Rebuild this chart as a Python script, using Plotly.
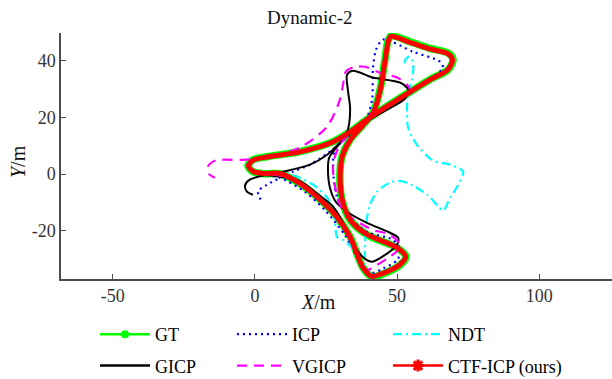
import plotly.graph_objects as go

# ---------------- data (metres) ----------------
gt_x = [47.9, 54.6, 61.6, 68.0, 69.7, 68.0, 61.6, 54.6, 46.8, 39.4, 33.5, 27.5, 15.8, 4.2, -0.7, -2.5,
        -0.7, 3.5, 8.8, 15.8, 22.9, 28.2, 33.5, 38.0, 41.2, 45.1, 51.1, 53.2, 50.0, 39.4, 33.5, 30.6,
        29.9, 30.6, 33.5, 37.7, 41.5, 44.0, 45.6, 46.8, 47.9]
gt_y = [48.7, 46.6, 44.3, 42.6, 40.3, 36.8, 33.3, 29.0, 24.1, 19.2, 14.9, 11.4, 7.9, 6.1, 5.0, 2.9,
        0.8, 0.1, 0.1, -3.4, -9.0, -14.3, -22.1, -33.0, -36.3, -35.2, -32.0, -29.2, -26.0, -21.4, -16.2, -9.1,
        -0.2, 6.1, 12.1, 17.0, 21.6, 29.7, 39.5, 46.9, 48.7]

icp_x = [0.0, 8.8, 17.6, 24.6, 31.7, 37.0, 40.5, 45.1, 50.0, 51.1, 48.6, 39.4, 32.7, 28.9, 27.5, 28.2,
         33.5, 38.7, 41.2, 41.5, 42.6, 45.1, 55.6, 65.1, 66.2, 65.1, 55.6, 44.0, 35.2, 28.2, 19.4, 13.4,
         4.2, 1.1, 2.5]
icp_y = [0.1, -1.3, -6.3, -12.7, -21.6, -31.1, -35.0, -33.3, -30.4, -26.9, -23.2, -20.4, -14.4, -8.1, 1.5, 8.6,
         13.8, 18.4, 26.2, 36.8, 43.8, 47.4, 43.1, 39.6, 37.5, 36.1, 29.0, 22.0, 16.3, 9.3, 3.3, 0.8,
         -3.8, -6.2, -9.8]

ndt_x = [0.0, 5.3, 9.9, 15.8, 21.1, 24.6, 27.5, 28.2, 28.9, 31.0, 34.2, 37.0, 38.4, 38.7, 39.1, 40.5,
         43.0, 47.5, 51.1, 55.6, 60.6, 64.1, 66.2, 68.7, 71.5, 73.2, 68.7, 62.7, 57.0, 53.9, 53.5, 53.9,
         55.3, 55.6, 54.2, 52.8, 53.2]
ndt_y = [0.1, 0.5, 0.5, -1.3, -4.2, -7.3, -11.9, -17.2, -22.2, -23.2, -26.0, -31.0, -33.0, -26.7, -17.7, -10.8,
         -6.2, -3.0, -2.4, -4.1, -7.3, -10.9, -12.9, -8.3, -3.8, 0.8, 3.3, 4.7, 10.3, 16.3, 22.0, 29.0,
         33.3, 39.6, 41.4, 40.0, 37.8]

gicp_x = [0.0, 8.8, 15.8, 22.9, 27.5, 32.4, 35.9, 38.7, 41.2, 45.8, 50.0, 50.4, 47.5, 39.4, 33.5, 28.5,
          26.4, 25.7, 26.1, 29.2, 32.4, 33.5, 32.7, 32.4, 34.5, 41.5, 51.1, 53.9, 52.8, 46.5, 40.5, 35.2,
          29.9, 25.4, 19.4, 9.9, 2.5, -1.8, -3.5, -2.8, -0.7]
gicp_y = [0.1, -0.95, -2.4, -7.7, -11.5, -19.6, -26.7, -29.9, -30.9, -28.5, -24.9, -22.5, -20.7, -17.2, -14.0, -9.8,
          -4.8, 1.5, 5.7, 10.0, 14.6, 22.7, 29.7, 35.0, 36.4, 34.0, 32.2, 29.7, 26.6, 22.7, 19.2, 15.6,
          11.0, 6.8, 3.3, 0.8, -0.6, -2.0, -4.1, -6.2, -7.3]

vgicp_x = [0.0, 8.8, 15.8, 22.9, 28.2, 32.7, 36.3, 39.4, 43.0, 46.8, 50.4, 51.1, 47.5, 41.5, 34.2, 29.9,
           28.2, 27.5, 29.9, 36.3, 45.8, 53.5, 54.6, 53.2, 50.0, 44.0, 38.7, 35.2, 32.0, 31.0, 29.9, 25.4,
           15.8, 4.2, -4.2, -14.1, -16.5, -16.2, -14.1]
vgicp_y = [0.1, -0.6, -3.1, -8.4, -14.4, -21.5, -29.6, -33.8, -32.0, -29.6, -26.8, -25.0, -21.4, -19.7, -15.5, -10.8,
           -4.5, 3.3, 10.3, 17.0, 23.4, 28.0, 29.7, 31.8, 34.0, 35.7, 37.8, 37.8, 36.1, 31.5, 26.2, 16.7,
           9.3, 5.8, 5.0, 4.7, 2.6, 0.1, -1.3]

ctf_x = [47.8, 54.5, 61.5, 67.9, 69.5, 67.8, 61.5, 54.5, 46.7, 39.3, 33.4, 27.4, 15.8, 4.2, -0.6, -2.3,
         -0.6, 3.5, 8.8, 15.8, 22.8, 28.1, 33.4, 37.9, 41.1, 45.0, 51.0, 53.0, 49.9, 39.4, 33.5, 30.7,
         30.0, 30.7, 33.6, 37.8, 41.6, 44.1, 45.7, 46.9, 47.8]
ctf_y = [48.5, 46.4, 44.1, 42.4, 40.2, 36.7, 33.2, 28.9, 24.0, 19.1, 14.8, 11.3, 7.8, 6.0, 4.9, 2.9,
         0.9, 0.2, 0.2, -3.3, -8.9, -14.2, -22.0, -32.8, -36.1, -35.0, -31.9, -29.1, -25.9, -21.3, -16.1, -9.0,
         -0.2, 6.1, 12.1, 17.0, 21.6, 29.7, 39.4, 46.7, 48.5]

x_ticks = [-50, 0, 50, 100]
y_ticks = [-20, 0, 20, 40]

FONT = "Liberation Serif"
W, H = 612, 379

series = [
    ("GT", gt_x, gt_y, "#00ff00", 7.5, "solid"),
    ("ICP", icp_x, icp_y, "#0000ff", 2.2, "2px,4px"),
    ("NDT", ndt_x, ndt_y, "#00ffff", 2.2, "9px,4px,2px,4px"),
    ("GICP", gicp_x, gicp_y, "#000000", 2.0, "solid"),
    ("VGICP", vgicp_x, vgicp_y, "#ff00ff", 2.2, "10px,7px"),
    ("CTF-ICP (ours)", ctf_x, ctf_y, "#ff0000", 5.0, "solid"),
]

fig = go.Figure()
for name, xs, ys, col, w, dash in series:
    fig.add_trace(go.Scatter(x=xs, y=ys, mode="lines", name=name, showlegend=False,
                             line=dict(color=col, width=w, dash=dash, shape="spline", smoothing=0.8),
                             hoverinfo="skip"))

# legend-only entries (3 columns x 2 rows)
legend_items = [
    ("GT", "#00ff00", "solid", 2.5, dict(symbol="circle", size=8, color="#00ff00"), "legend"),
    ("GICP", "#000000", "solid", 2.5, None, "legend"),
    ("ICP", "#0000ff", "2px,4px", 2.2, None, "legend2"),
    ("VGICP", "#ff00ff", "10px,7px", 2.2, None, "legend2"),
    ("NDT", "#00ffff", "9px,4px,2px,4px", 2.2, None, "legend3"),
    ("CTF-ICP (ours)", "#ff0000", "solid", 2.5,
     dict(symbol="asterisk-open", size=10, color="#ff0000", line=dict(color="#ff0000", width=3)), "legend3"),
]
for name, col, dash, w, mk, lg in legend_items:
    fig.add_trace(go.Scatter(x=[None], y=[None], name=name,
                             mode="lines+markers" if mk else "lines",
                             line=dict(color=col, width=w, dash=dash),
                             marker=mk if mk else None,
                             legend=lg, legendgroup=name, showlegend=True))

l, r, t, b = 61, 0, 33, 100
leg_common = dict(orientation="v", xref="container", yref="container", xanchor="left", yanchor="top",
                  bgcolor="rgba(0,0,0,0)", borderwidth=0, tracegroupgap=5, itemwidth=50,
                  font=dict(family=FONT, size=18, color="#000000"))
leg_top = 1 - 316 / H
fig.update_layout(
    width=W, height=H,
    margin=dict(l=l, r=r, t=t, b=b, autoexpand=False),
    paper_bgcolor="white", plot_bgcolor="white",
    showlegend=True,
    legend=dict(x=95 / W, y=leg_top, **leg_common),
    legend2=dict(x=232 / W, y=leg_top, **leg_common),
    legend3=dict(x=388 / W, y=leg_top, **leg_common),
    xaxis=dict(range=[-68.2, 125.6], tickvals=x_ticks, ticktext=[str(v) for v in x_ticks],
               showgrid=False, zeroline=False, showline=True, linecolor="#4d4d4d", linewidth=1.5,
               ticks="inside", ticklen=5, tickwidth=1.2, tickcolor="#4d4d4d",
               tickfont=dict(family=FONT, size=18, color="#333333"), mirror=False, automargin=False),
    yaxis=dict(range=[-37.0, 49.7], tickvals=y_ticks, ticktext=[str(v) for v in y_ticks],
               showgrid=False, zeroline=False, showline=True, linecolor="#4d4d4d", linewidth=1.5,
               ticks="inside", ticklen=5, tickwidth=1.2, tickcolor="#4d4d4d",
               tickfont=dict(family=FONT, size=18, color="#333333"), mirror=False, automargin=False),
    annotations=[
        dict(text="Dynamic-2", xref="paper", yref="paper", x=(309 - l) / (W - l - r), y=1 + (t - 17) / (H - t - b),
             showarrow=False, xanchor="center", yanchor="middle", font=dict(family=FONT, size=19, color="#111111")),
        dict(text="<i>X</i>/m", xref="paper", yref="paper", x=(318 - l) / (W - l - r), y=-(302 - (H - b)) / (H - t - b),
             showarrow=False, xanchor="center", yanchor="middle", font=dict(family=FONT, size=20, color="#111111")),
        dict(text="<i>Y</i>/m", xref="paper", yref="paper", x=-(l - 18) / (W - l - r), y=(H - b - 162) / (H - t - b),
             showarrow=False, xanchor="center", yanchor="middle", textangle=-90,
             font=dict(family=FONT, size=20, color="#111111")),
    ],
)

fig.write_html("out.html", config={"displayModeBar": False},
               post_script="document.body.style.margin='0px';document.body.style.overflow='hidden';")
